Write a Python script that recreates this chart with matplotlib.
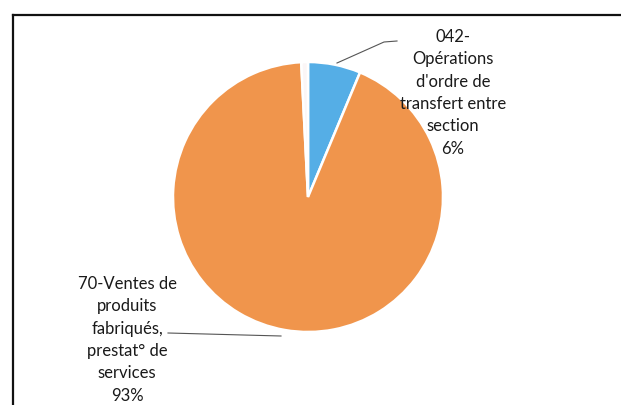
import matplotlib.pyplot as plt
from matplotlib.lines import Line2D

# Data
# ------------------------------------------------------------------------------------------
categories = ["042-\nOpérations\nd'ordre de\ntransfert entre\nsection",
              "70-Ventes de\nproduits\nfabriqués,\nprestat° de\nservices",
              "Autres"]
values = [6.3, 92.9, 0.8]
pct_labels = ['6%', '93%', '']
colors = ['#55aee6', '#f0954c', '#fbf6f6']

# Plot
# ------------------------------------------------------------------------------------------
W, H = 621, 405
fig = plt.figure(figsize=(W / 100, H / 100), dpi=100)
ax = fig.add_axes([0, 0, 1, 1])

cx, cy, r = 308, H - 197, 135
wedges, _ = ax.pie(values, colors=colors, startangle=90, counterclock=False,
                   center=(cx, cy), radius=r, frame=True,
                   wedgeprops=dict(edgecolor='white', linewidth=1.8))
ax.set_xlim(0, W)
ax.set_ylim(0, H)
ax.set_aspect('equal')
ax.axis('off')

font = dict(family='Lato', fontsize=12, color='#1a1a1a', ha='center', va='top',
            multialignment='center', linespacing=1.49)
ax.text(453, H - 29, categories[0] + '\n' + pct_labels[0], **font)
ax.text(127, H - 276, categories[1] + '\n' + pct_labels[1], **font)

# leader lines
ax.plot([337, 384, 397], [H - 63, H - 42, H - 41], color='#555555', lw=0.8)
ax.plot([168, 281], [H - 333, H - 336], color='#555555', lw=0.8)

# frame of the scanned chart
fig.add_artist(Line2D([13 / W, 1], [1 - 15 / H, 1 - 15 / H], color='#111111', lw=1.6))
fig.add_artist(Line2D([13 / W, 13 / W], [0, 1 - 15 / H], color='#111111', lw=1.6))

plt.savefig('out.png', dpi=100, facecolor='white')
plt.close(fig)
